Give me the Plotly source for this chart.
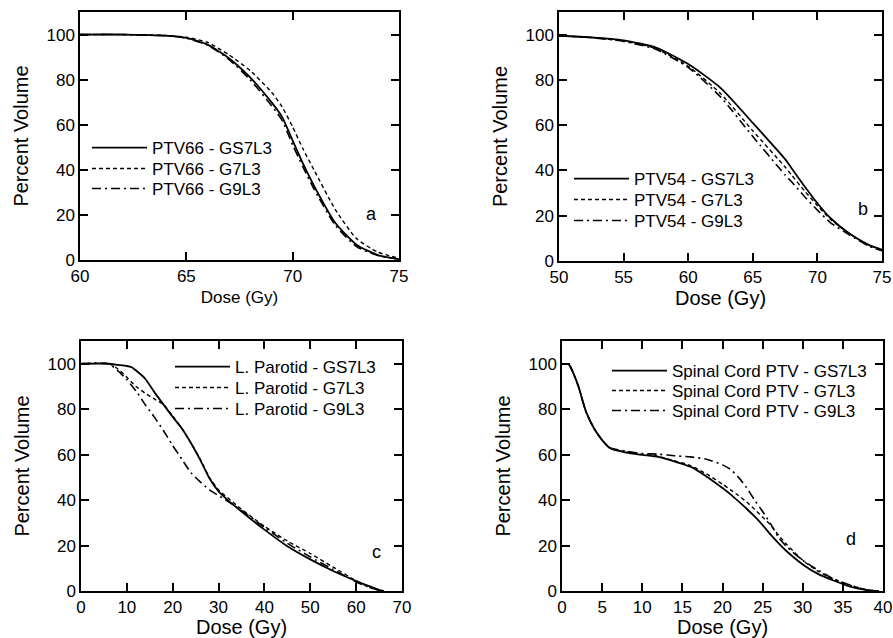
import plotly.graph_objects as go

# ---- data ----
# panel a: PTV66
dose_a = [60, 62, 64, 65, 66, 67, 68, 69, 69.5, 70, 70.5, 71, 72, 73, 74, 75]
a_gs7l3 = [100, 100, 99.5, 98.5, 95.5, 89.5, 81, 70, 63.5, 53, 42.5, 33, 16.5, 6.8, 2.2, 0.4]
a_g7l3 = [100, 100, 99.6, 98.8, 96.5, 91, 84, 74.5, 68, 59, 49, 40, 22.5, 9.5, 3.5, 0.8]
a_g9l3 = [100, 100, 99.5, 98.4, 95.3, 89, 80, 68.5, 62, 51, 41, 31.5, 15.5, 6, 2, 0.4]

# panel b: PTV54
dose_b = [50, 52.5, 55, 57.5, 60, 62.5, 65, 67.5, 68, 69, 70, 71, 72.5, 74, 75]
b_gs7l3 = [99.5, 98.8, 97.5, 94.3, 87, 76.5, 61, 45, 41, 33, 25.5, 19, 12, 7, 5]
b_g7l3 = [99.5, 98.7, 97.2, 93.8, 86, 74, 57.5, 41.5, 38, 31, 24.5, 18.5, 12, 7, 5]
b_g9l3 = [99.5, 98.7, 97, 93.5, 85.5, 72.5, 55, 38, 35, 28.5, 22.5, 17, 11.5, 6.5, 4.5]

# panel c: L. Parotid
dose_c = [0, 6, 8, 10, 11, 12, 14, 16, 18, 20, 22, 24, 26, 28, 30, 32, 35, 40, 45, 50, 55, 60, 63, 65, 66]
c_gs7l3 = [100, 100, 99.5, 99, 98.5, 97, 93.4, 87.5, 82, 76.6, 71.5, 65, 57.7, 49.6, 43.8, 40, 35, 27, 19.7, 13.9, 8.8, 4.4, 2, 0.5, 0]
c_g7l3 = [100, 100, 97.8, 94, 92, 90, 87, 84.5, 82, 77, 71.5, 65, 58, 50, 44.5, 41, 36, 28.5, 22, 16.5, 10.5, 4.5, 1.5, 0.3, 0]
c_g9l3 = [100, 100, 97, 93, 90.5, 88, 82, 76.5, 70.5, 64, 58, 52, 48, 44.5, 42, 39.5, 35.5, 28, 21, 15, 9.5, 4, 1.5, 0.3, 0]

# panel d: Spinal Cord PTV
dose_d = [0.8, 1, 2, 3, 4, 5, 6, 8, 10, 12, 14, 16, 18, 20, 21, 22, 23, 24, 25, 26, 27, 28, 30, 32, 34, 36, 38, 39.5]
d_gs7l3 = [100, 99, 90.5, 78.8, 71.5, 66.4, 62.8, 60.9, 59.9, 59, 57, 54.7, 50.4, 45.3, 42.5, 39.4, 36.2, 32.8, 29, 24.8, 21, 17.5, 11.7, 7.3, 4.4, 1.8, 0.4, 0]
d_g7l3 = [100, 99, 90.5, 78.8, 71.5, 66.4, 62.8, 61.2, 60.2, 59.2, 57.3, 55.2, 51.5, 47, 44.5, 42, 39.2, 36, 32.5, 29, 24.5, 20.5, 13.5, 8.5, 5, 2.5, 0.5, 0]
d_g9l3 = [100, 99, 90.5, 78.8, 71.5, 66.4, 63, 61.5, 60.5, 60.2, 59.5, 59, 58, 55.5, 53.5, 50, 45.5, 40, 35, 29.5, 23.5, 19.5, 13.5, 9, 5, 2.5, 0.5, 0]

plan_names = ["GS7L3", "G7L3", "G9L3"]
structures = ["PTV66", "PTV54", "L. Parotid", "Spinal Cord PTV"]
panel_letters = ["a", "b", "c", "d"]

doses = [dose_a, dose_b, dose_c, dose_d]
curves = [[a_gs7l3, a_g7l3, a_g9l3],
          [b_gs7l3, b_g7l3, b_g9l3],
          [c_gs7l3, c_g7l3, c_g9l3],
          [d_gs7l3, d_g7l3, d_g9l3]]

# ---- layout settings ----
W, H = 893, 638
FONT = "Liberation Sans, Arial, Helvetica, sans-serif"

# plot boxes in pixels: left, right, top, bottom
boxes = [(80, 399, 12, 260), (559, 882, 12, 261), (81, 402, 341, 591), (562, 883, 341, 591)]
xranges = [[60, 75], [50, 75], [0, 70], [0, 40]]
xdticks = [5, 5, 10, 5]
dose_font = [17, 20, 20, 20]
dose_standoff = [6, 4, 1, 1]
letter_pos = [(73.7, 20.5), (73.5, 23), (64.5, 17), (36, 23)]
# legend sample start (px) and the three row centres (px) for each panel
legend_x = [94, 576, 177, 614]
legend_rows = [(147, 168, 188), (178, 199, 220), (366, 387, 408), (370, 390, 410)]

styles = [dict(dash="solid", width=1.8),
          dict(dash="4px,3px", width=1.4),
          dict(dash="9px,4px,2px,4px", width=1.6)]

fig = go.Figure()
layout = dict(width=W, height=H, margin=dict(l=0, r=0, t=0, b=0),
              paper_bgcolor="white", plot_bgcolor="white", showlegend=True,
              font=dict(family=FONT, color="black", size=17))

n = 0
for i in range(4):
    sfx = "" if i == 0 else str(i + 1)
    for j in range(3):
        n += 1
        leg = "legend" if n == 1 else "legend" + str(n)
        fig.add_trace(go.Scatter(
            x=doses[i], y=curves[i][j], mode="lines",
            name=f"{structures[i]} - {plan_names[j]}",
            line=dict(color="black", shape="spline", smoothing=0.6, **styles[j]),
            xaxis="x" + sfx, yaxis="y" + sfx, legend=leg, showlegend=True))
        # one legend per entry so that rows sit where the reference has them
        layout[leg] = dict(x=(legend_x[i] - 7) / W, y=1 - (legend_rows[i][j] - 17) / H,
                           xanchor="left", yanchor="top",
                           bgcolor="rgba(0,0,0,0)", borderwidth=0,
                           font=dict(size=17, family=FONT, color="black"),
                           itemwidth=55)

    l, r, t, b = boxes[i]
    common = dict(showline=True, linecolor="black", linewidth=1.5, mirror="ticks",
                  ticks="inside", ticklen=8, tickwidth=1.5, tickcolor="black",
                  showgrid=False, zeroline=False, automargin=False,
                  tickfont=dict(size=17, family=FONT, color="black"))
    layout["xaxis" + sfx] = dict(
        domain=[l / W, r / W], anchor="y" + sfx, range=xranges[i], dtick=xdticks[i],
        title=dict(text="Dose (Gy)", font=dict(size=dose_font[i]), standoff=dose_standoff[i]),
        **common)
    layout["yaxis" + sfx] = dict(
        domain=[1 - b / H, 1 - t / H], anchor="x" + sfx, range=[0, 110],
        tickvals=[0, 20, 40, 60, 80, 100],
        title=dict(text="Percent Volume", font=dict(size=20), standoff=12),
        **common)
    fig.add_annotation(x=letter_pos[i][0], y=letter_pos[i][1],
                       xref="x" + sfx, yref="y" + sfx, text=panel_letters[i],
                       showarrow=False, font=dict(size=18, family=FONT))

fig.update_layout(**layout)
fig.write_html("out.html", config={"displayModeBar": False},
               post_script="document.body.style.margin='0';")
